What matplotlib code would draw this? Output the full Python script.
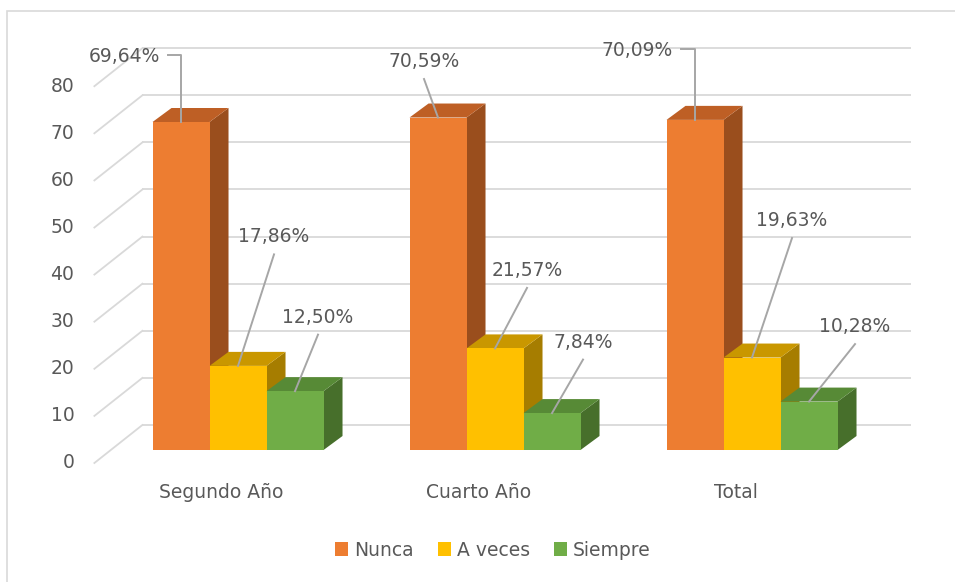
import matplotlib
matplotlib.use('Agg')
from matplotlib import pyplot as plt
from matplotlib.patches import Polygon, Patch, Rectangle

plt.rcParams['font.family'] = ['DejaVu Sans']

# Data
categories = ["Segundo Año", "Cuarto Año", "Total"]
series_names = ["Nunca", "A veces", "Siempre"]
nunca = [69.64, 70.59, 70.09]
a_veces = [17.86, 21.57, 19.63]
siempre = [12.50, 7.84, 10.28]
y_ticks = [0, 10, 20, 30, 40, 50, 60, 70, 80]

# Colours (front, top, side)
front_colors = ['#ED7D31', '#FFC000', '#70AD47']
top_colors = ['#BE5F25', '#C99700', '#578A36']
side_colors = ['#9A4E1D', '#A67D00', '#476F2B']
text_color = '#595959'
grid_color = '#D9D9D9'
leader_color = '#A6A6A6'

# Label offsets from the bar anchor, in pixels (right, down)
label_offsets = [
    [(-57, -65), (-14, -56), (-58, -69)],
    [(36, -129), (32, -78), (40, -137)],
    [(23, -74), (31, -71), (46, -75)],
]
elbow_labels = [(0, 0), (0, 2)]

# Pseudo 3D layout
W, H = 955, 582
PX_CAT = 257.0
PX_VAL = 4.71
X0, Y0 = 221.6, 463.0
DEPTH_X = 48 / PX_CAT
DEPTH_Y = 38 / PX_VAL
BAR_FRONT = 0.342
BAR_DX, BAR_DY = 19 / PX_CAT, 14 / PX_VAL
BAR_W = 57 / PX_CAT
WALL_HALF = 1.495
FS = 13.5

fig = plt.figure(figsize=(W / 100, H / 100), dpi=100)
xlim = (-0.86, 2.86)
ylim = (-25, 98)
ax = fig.add_axes([(X0 + xlim[0] * PX_CAT) / W,
                   (H - Y0 + ylim[0] * PX_VAL) / H,
                   (xlim[1] - xlim[0]) * PX_CAT / W,
                   (ylim[1] - ylim[0]) * PX_VAL / H])
ax.set_xlim(*xlim)
ax.set_ylim(*ylim)
ax.axis('off')

center = (len(categories) - 1) / 2
wall_l = center - WALL_HALF
wall_r = center + WALL_HALF

# back wall gridlines, side wall lines and tick labels
for v in y_ticks:
    ax.plot([wall_l + DEPTH_X, wall_r + DEPTH_X], [v + DEPTH_Y, v + DEPTH_Y],
            color=grid_color, lw=1.3, zorder=1, solid_capstyle='butt')
    ax.plot([wall_l, wall_l + DEPTH_X], [v, v + DEPTH_Y],
            color=grid_color, lw=1.3, zorder=1)
    ax.text(wall_l - 20 / PX_CAT, v, str(v), ha='right', va='center',
            fontsize=FS, color=text_color)

# bars
fx, fy = BAR_FRONT * DEPTH_X, BAR_FRONT * DEPTH_Y
ddx, ddy = BAR_DX, BAR_DY
all_series = [nunca, a_veces, siempre]
for j, vals in enumerate(all_series):
    xs = [i + (j - 1) * BAR_W + fx for i in range(len(vals))]
    for xc, v in zip(xs, vals):
        xl, xr = xc - BAR_W / 2, xc + BAR_W / 2
        top = v + fy
        side = Polygon([(xr, fy), (xr, top), (xr + ddx, top + ddy), (xr + ddx, fy + ddy)],
                       closed=True, facecolor=side_colors[j], edgecolor='none', zorder=2 + j * 3)
        topf = Polygon([(xl, top), (xr, top), (xr + ddx, top + ddy), (xl + ddx, top + ddy)],
                       closed=True, facecolor=top_colors[j], edgecolor='none', zorder=3 + j * 3)
        ax.add_patch(side)
        ax.add_patch(topf)
    ax.bar(xs, vals, width=BAR_W, bottom=fy, color=front_colors[j],
           edgecolor='none', zorder=4 + j * 3)

    # data labels + leader lines
    for i, (xc, v) in enumerate(zip(xs, vals)):
        ox, oy = label_offsets[j][i]
        tx, ty = xc + ox / PX_CAT, v + fy - oy / PX_VAL
        txt = f"{v:.2f}%".replace('.', ',')
        ax.text(tx, ty, txt, ha='center', va='center', fontsize=FS,
                color=text_color, zorder=20)
        if (j, i) in elbow_labels:
            ey = ty + 2 / PX_VAL
            ax.plot([tx + 44 / PX_CAT, xc, xc], [ey, ey, v + fy],
                    color=leader_color, lw=1.4, zorder=19)
        else:
            ax.plot([tx, xc], [ty - 17.5 / PX_VAL, v + fy],
                    color=leader_color, lw=1.4, zorder=19)

# category labels
for i, name in enumerate(categories):
    ax.text(i, -29 / PX_VAL, name, ha='center', va='center', fontsize=FS,
            color=text_color)

# legend
handles = [Patch(facecolor=c, edgecolor='none') for c in front_colors]
fig.legend(handles, series_names, loc='center', bbox_to_anchor=(493 / W, 1 - 550 / H),
           ncol=3, frameon=False, handlelength=0.7, handleheight=0.7,
           handletextpad=0.3, columnspacing=1.3, fontsize=FS, labelcolor=text_color)

# chart border
fig.add_artist(Rectangle((7 / W, -0.1), 2, (H - 11) / H + 0.1, fill=False,
                         edgecolor=grid_color, lw=1.2, transform=fig.transFigure))

fig.savefig('out.png', dpi=100)
